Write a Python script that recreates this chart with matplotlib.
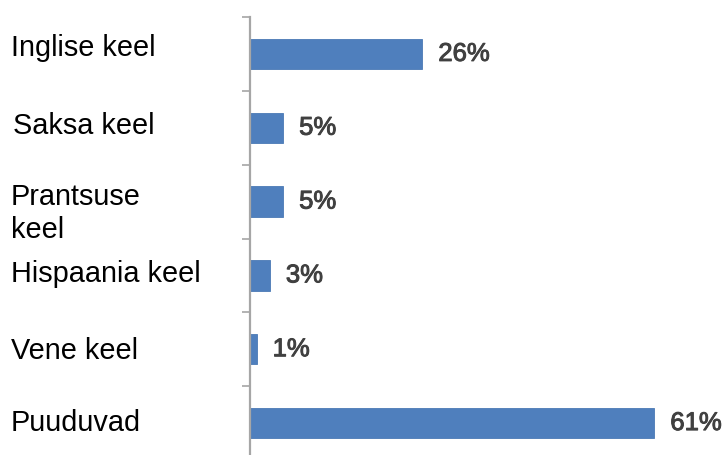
import matplotlib
matplotlib.use("Agg")
import matplotlib.pyplot as plt
import matplotlib.patheffects as pe
from matplotlib.transforms import blended_transform_factory, offset_copy

# Languages studied and share of respondents (%)
categories = ["Inglise keel", "Saksa keel", "Prantsuse\nkeel", "Hispaania keel", "Vene keel", "Puuduvad"]
values = [26, 5, 5, 3, 1, 61]
value_labels = ["26%", "5%", "5%", "3%", "1%", "61%"]

W, H, DPI = 723, 455, 100
fig = plt.figure(figsize=(W / DPI, H / DPI), dpi=DPI)
fig.patch.set_facecolor("white")

# Axes: value axis line at x=250px, category slots 73.8px tall
ax = fig.add_axes([250 / W, -5 / H, 464 / W, 443 / H])
ax.set_facecolor("white")

ypos = list(range(len(categories)))
ax.barh(ypos, values, height=0.41, color="#4f7fbd", edgecolor="#4a79b5", linewidth=0.6, zorder=2)

ax.set_xlim(0, 70)
ax.set_ylim(len(categories) - 0.5, -0.5)

# Spines and boundary ticks
for s in ["top", "right", "bottom"]:
    ax.spines[s].set_visible(False)
ax.spines["left"].set_color("#a6a6a6")
ax.spines["left"].set_linewidth(1.6)
ax.set_xticks([])
ax.set_yticks([i - 0.5 for i in range(len(categories) + 1)])
ax.set_yticklabels([])
ax.tick_params(axis="y", direction="out", length=6, width=1.2, color="#a6a6a6")

# Value labels to the right of each bar (medium weight)
medium = [pe.withStroke(linewidth=0.7, foreground="#404040")]
for y, v, lab in zip(ypos, values, value_labels):
    ax.annotate(lab, xy=(v, y), xytext=(11.5, 0), textcoords="offset points",
                ha="left", va="center", fontsize=18.5, fontweight="normal",
                color="#404040", family="Liberation Sans", path_effects=medium)

# Category labels, left-aligned near the figure edge
trans = blended_transform_factory(fig.transFigure, ax.transData)
nudge_px = [-6, -2, 12, -1, 2, 0]
indent_px = [0, 2, 0, 0, 0, 0]
for y, name, dy, dx in zip(ypos, categories, nudge_px, indent_px):
    t = offset_copy(trans, fig=fig, x=dx * 72 / DPI, y=-dy * 72 / DPI, units="points")
    ax.text(11 / W, y, name, transform=t, ha="left", va="center",
            fontsize=20.8, color="black", family="Liberation Sans",
            linespacing=1.25, clip_on=False)

fig.savefig("out.png", dpi=DPI, facecolor="white")
